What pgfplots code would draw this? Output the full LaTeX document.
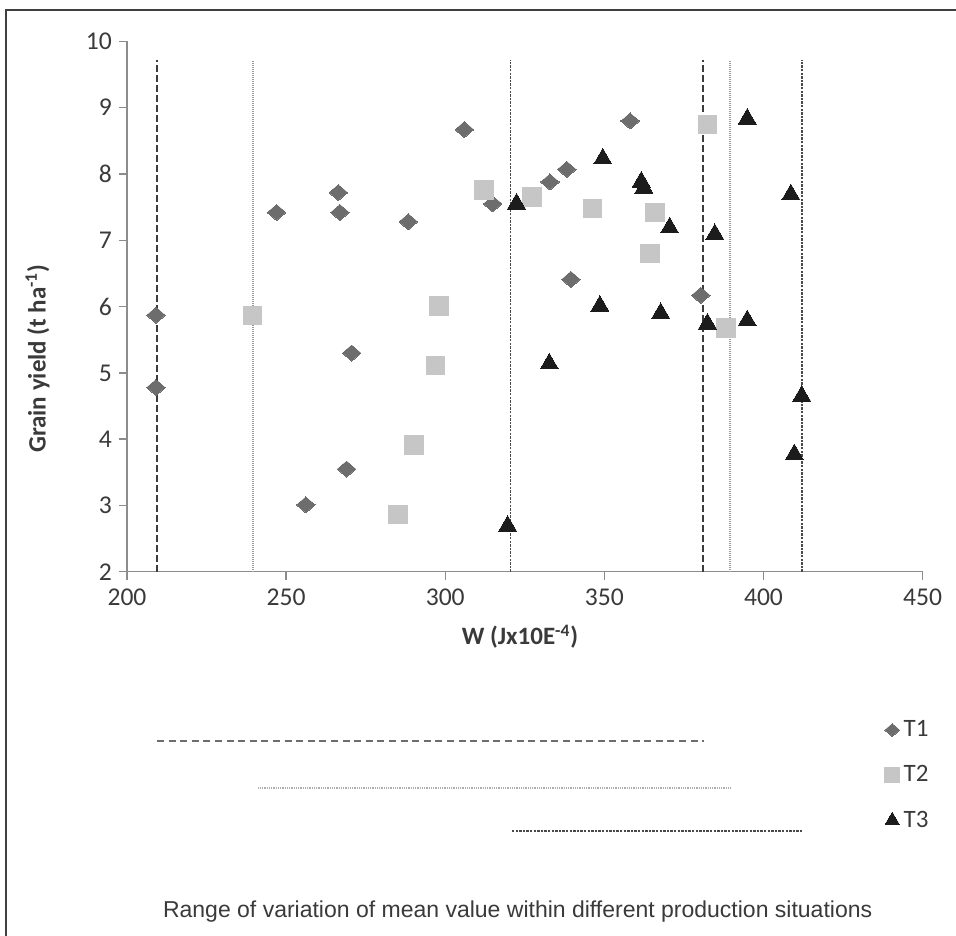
\documentclass[border=0pt]{standalone}
\usepackage{pgfplots}
\pgfplotsset{compat=1.18}
\usepackage{fontspec}
\setmainfont{Carlito}
\newfontfamily\capfont{Liberation Sans}
\definecolor{axgray}{HTML}{8C8C8C}
\definecolor{txtgray}{HTML}{3A3A3A}
\definecolor{tone}{HTML}{6D6D6D}
\definecolor{ttwo}{HTML}{C6C6C6}
\definecolor{tthree}{HTML}{1C1C1C}
\definecolor{lone}{HTML}{3C3C3C}
\definecolor{ltwo}{HTML}{9A9A9A}
\definecolor{lthree}{HTML}{4A4A4A}
\begin{document}
\begin{tikzpicture}
\useasboundingbox (-63.5pt,-181.6pt) rectangle (414.5pt,285.9pt);
\draw[black!75, line width=1.2pt] (-60.5pt,-300pt) rectangle (520pt,280.9pt);
\begin{axis}[
  at={(0pt,0pt)}, anchor=south west,
  scale only axis, width=397.8pt, height=265.2pt,
  xmin=200, xmax=450, ymin=2, ymax=10,
  axis lines=left, axis line style={-, axgray, line width=0.7pt},
  xtick={200,250,...,450}, ytick={2,3,...,10},
  tick align=outside, major tick length=4pt,
  tick style={axgray, line width=0.7pt},
  ticklabel style={font=\fontsize{12.8}{14}\selectfont, text=txtgray},
  xticklabel style={yshift=-1pt},
  /pgf/number format/assume math mode=true,
  clip=false,
  xlabel={\textbf{W (Jx10E\textsuperscript{-4})}},
  ylabel={\textbf{Grain yield (t ha\textsuperscript{-1})}},
  label style={font=\fontsize{12.5}{14}\selectfont, text=txtgray},
  xlabel style={at={(axis description cs:0.494,-0.1226)}, anchor=center},
  ylabel style={at={(axis description cs:-0.1125,0.402)}, anchor=center, rotate=0},
  legend style={at={(0.952,-0.272)}, anchor=north west, draw=none, fill=none,
    font=\fontsize{12.5}{14}\selectfont, text=txtgray, row sep=9pt,
    inner sep=0pt},
  legend cell align=left,
  legend image post style={scale=0.8},
]
% vertical range lines
\addplot[forget plot, lone, line width=1pt, dash pattern=on 3.3pt off 1.7pt] coordinates {(209.3,2) (209.3,9.72)};
\addplot[forget plot, lone, line width=1pt, dash pattern=on 3.3pt off 1.7pt] coordinates {(381,2) (381,9.72)};
\addplot[forget plot, ltwo, line width=0.7pt, dash pattern=on 0.5pt off 0.5pt] coordinates {(239.6,2) (239.6,9.72)};
\addplot[forget plot, ltwo, line width=0.7pt, dash pattern=on 0.5pt off 0.5pt] coordinates {(389.5,2) (389.5,9.72)};
\addplot[forget plot, lthree, line width=0.9pt, dash pattern=on 1.2pt off 0.6pt] coordinates {(320.5,2) (320.5,9.72)};
\addplot[forget plot, lthree, line width=0.9pt, dash pattern=on 1.2pt off 0.6pt] coordinates {(412,2) (412,9.72)};
% horizontal range lines below the chart
\addplot[forget plot, tone, line width=1.2pt, dash pattern=on 3.5pt off 2.3pt] coordinates {(209.4,-0.55) (381.4,-0.55)};
\addplot[forget plot, ltwo!80, line width=1.1pt, dash pattern=on 0.5pt off 0.4pt] coordinates {(241.2,-1.26) (389.9,-1.26)};
\addplot[forget plot, lthree, line width=1pt, dash pattern=on 1.2pt off 0.6pt] coordinates {(321,-1.91) (412.6,-1.91)};
% T1
\addplot[only marks, mark=diamond*, mark size=4pt, mark options={xscale=1.55, fill=tone, draw=tone, line width=0pt}] coordinates {
(209.1,5.87) (209.1,4.78) (247.0,7.42) (266.4,7.72) (266.9,7.42) (288.4,7.28)
(270.6,5.30) (269.0,3.55) (256.2,3.01) (306.0,8.67) (314.9,7.55) (332.9,7.88)
(338.2,8.07) (339.5,6.41) (358.1,8.80) (380.3,6.17)
};
\addlegendentry{T1}
% T2
\addplot[only marks, mark=square*, mark size=4.6pt, mark options={fill=ttwo, draw=ttwo, line width=0pt}] coordinates {
(239.4,5.87) (285.1,2.86) (290.2,3.91) (297.0,5.11) (298.0,6.01) (312.2,7.76)
(327.2,7.65) (346.2,7.48) (365.9,7.42) (364.4,6.80) (382.5,8.75) (388.2,5.68)
};
\addlegendentry{T2}
% T3
\addplot[only marks, mark=triangle*, mark size=5.2pt, mark options={fill=tthree, draw=tthree, line width=0pt}] coordinates {
(319.6,2.69) (322.4,7.55) (332.7,5.14) (349.5,8.23) (348.6,6.01) (361.6,7.88)
(362.4,7.79) (367.7,5.90) (370.5,7.19) (382.4,5.74) (384.7,7.09) (394.9,8.83)
(394.9,5.79) (408.6,7.69) (412.0,4.65) (409.7,3.77)
};
\addlegendentry{T3}
\node[font=\capfont\fontsize{11.5}{13}\selectfont, text=txtgray] at (rel axis cs:0.491,-0.641) {Range of variation of mean value within different production situations};
\end{axis}
\end{tikzpicture}
\end{document}
